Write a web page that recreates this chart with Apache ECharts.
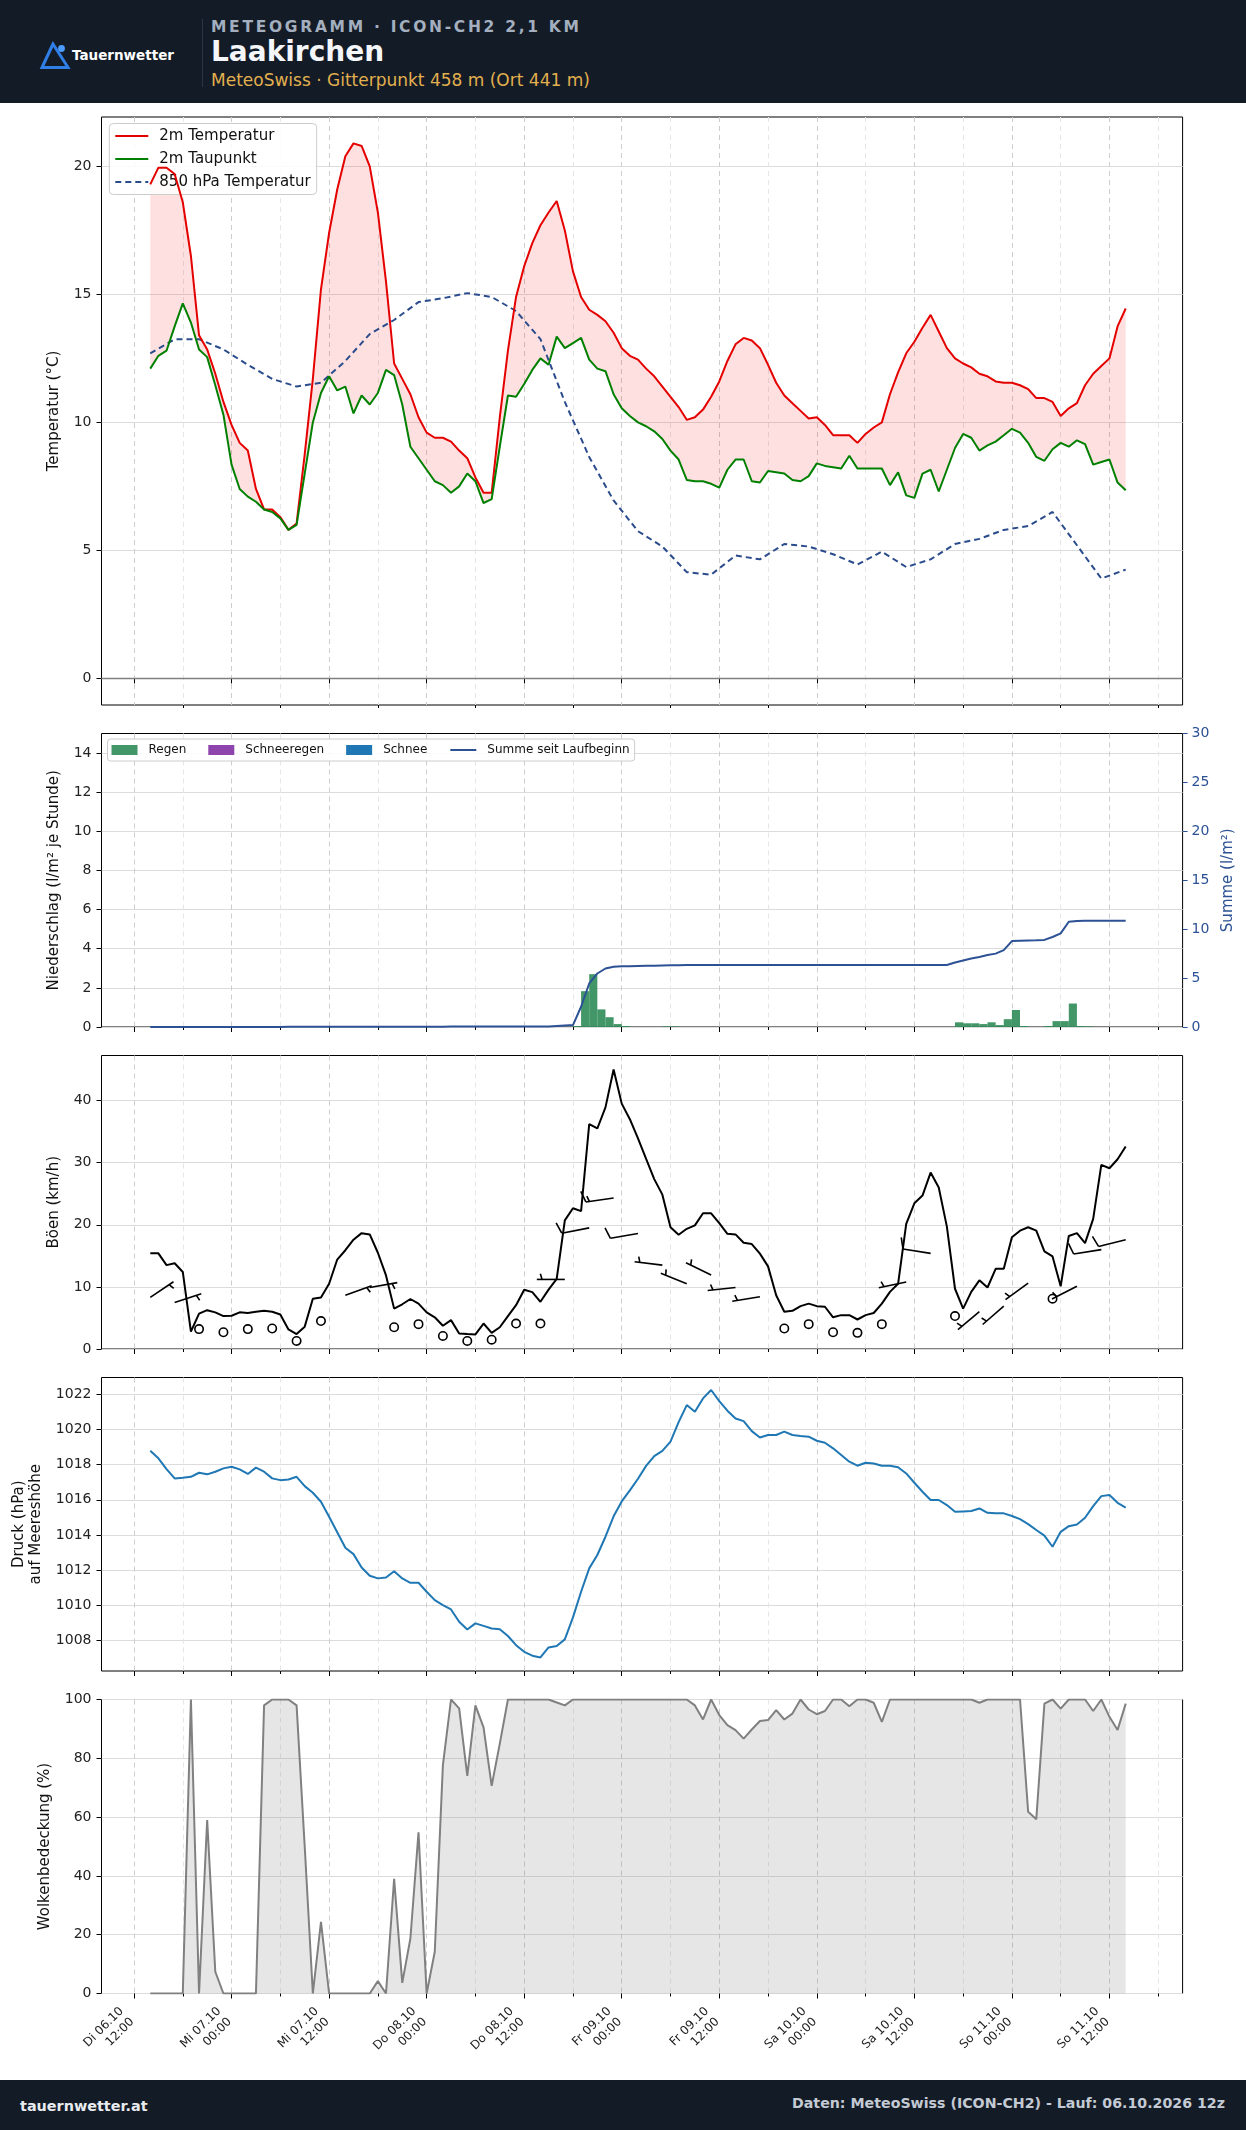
<!DOCTYPE html>
<html>
<head>
<meta charset="utf-8">
<script src="https://cdn.jsdelivr.net/npm/echarts@6/dist/echarts.min.js"></script>
<style>
html,body{margin:0;padding:0;background:#fff;}
body{width:1246px;height:2130px;position:relative;overflow:hidden;font-family:'DejaVu Sans',sans-serif;}
#chart{position:absolute;left:0;top:0;width:1246px;height:2130px;}
.bar{position:absolute;left:0;width:1246px;background:#131b26;}
.t{position:absolute;white-space:nowrap;line-height:1;}
</style>
</head>
<body>
<div id="chart"></div>
<div class="bar" style="top:0;height:103px;">
  <svg style="position:absolute;left:0;top:0" width="120" height="103">
    <polygon points="53,44 42,67.5 68,67.5" fill="none" stroke="#2f7fe6" stroke-width="3" stroke-linejoin="miter"/>
    <circle cx="61.5" cy="48.5" r="3.4" fill="#4c9bff"/>
  </svg>
  <div class="t" style="left:72px;top:48.5px;font-size:13.5px;font-weight:bold;color:#ffffff;">Tauernwetter</div>
  <div style="position:absolute;left:202px;top:19px;width:1px;height:68px;background:#2a3444;"></div>
  <div class="t" style="left:211px;top:20px;font-size:15.5px;font-weight:bold;color:#a3afbf;letter-spacing:2.7px;">METEOGRAMM · ICON-CH2 2,1 KM</div>
  <div class="t" style="left:211px;top:37.5px;font-size:28px;font-weight:bold;color:#f4f6f9;">Laakirchen</div>
  <div class="t" style="left:211px;top:71.5px;font-size:17px;color:#e2b04e;">MeteoSwiss · Gitterpunkt 458 m (Ort 441 m)</div>
</div>
<div class="bar" style="top:2080px;height:50px;">
  <div class="t" style="left:20px;top:18.5px;font-size:14.4px;font-weight:bold;color:#e8ebef;">tauernwetter.at</div>
  <div class="t" style="right:21px;top:16.3px;font-size:14.2px;font-weight:bold;color:#c3cad4;">Daten: MeteoSwiss (ICON-CH2) - Lauf: 06.10.2026 12z</div>
</div>
<script>
// ---------------- time axis (hours since Di 06.10 00:00) ----------------
const DAY_LABELS = ['Di 06.10', 'Mi 07.10', 'Do 08.10', 'Fr 09.10', 'Sa 10.10', 'So 11.10'];
const MAJOR_TICKS = [12, 24, 36, 48, 60, 72, 84, 96, 108, 120, 132];
const MINOR_TICKS = [18, 30, 42, 54, 66, 78, 90, 102, 114, 126, 138];
const X_MIN = 8, X_MAX = 141;
const HOURS = [];
for (let t = 14; t <= 134; t++) HOURS.push(t);
const HOURS_3H = [];
for (let t = 14; t <= 134; t += 3) HOURS_3H.push(t);

// ---------------- y tick labels ----------------
const TEMP_TICKS = [0, 5, 10, 15, 20];
const PRECIP_TICKS = [0, 2, 4, 6, 8, 10, 12, 14];
const SUM_TICKS = [0, 5, 10, 15, 20, 25, 30];
const GUST_TICKS = [0, 10, 20, 30, 40];
const PRESS_TICKS = [1008, 1010, 1012, 1014, 1016, 1018, 1020, 1022];
const CLOUD_TICKS = [0, 20, 40, 60, 80, 100];

// ---------------- series values (hourly, 14 .. 134) ----------------
const TEMP_2M = [
  19.3, 19.95, 19.95, 19.7, 18.6, 16.5, 13.4, 12.85, 11.9, 10.8,
  9.9, 9.2, 8.9, 7.4, 6.6, 6.6, 6.3, 5.8, 6.05, 8.75,
  11.7, 15.2, 17.4, 19.1, 20.4, 20.9, 20.8, 20.0, 18.2, 15.5,
  12.3, 11.7, 11.1, 10.2, 9.6, 9.4, 9.4, 9.25, 8.9, 8.6,
  7.85, 7.25, 7.25, 10.2, 12.8, 14.9, 16.1, 17.0, 17.7, 18.2,
  18.65, 17.5, 15.9, 14.9, 14.4, 14.2, 13.95, 13.5, 12.9, 12.6,
  12.45, 12.1, 11.8, 11.4, 11.0, 10.6, 10.1, 10.2, 10.5, 11.0,
  11.6, 12.4, 13.05, 13.3, 13.2, 12.9, 12.25, 11.55, 11.05, 10.75,
  10.45, 10.15, 10.2, 9.9, 9.5, 9.5, 9.5, 9.2, 9.55, 9.8,
  10.0, 11.1, 11.95, 12.7, 13.15, 13.7, 14.2, 13.55, 12.9, 12.5,
  12.3, 12.15, 11.9, 11.8, 11.6, 11.55, 11.55, 11.45, 11.3, 10.95,
  10.95, 10.8, 10.25, 10.55, 10.75, 11.45, 11.9, 12.2, 12.5, 13.75,
  14.45
];
const DEWPOINT_2M = [
  12.1, 12.6, 12.8, 13.75, 14.65, 13.9, 12.85, 12.55, 11.45, 10.3,
  8.35, 7.4, 7.1, 6.9, 6.6, 6.5, 6.25, 5.8, 6.0, 8.0,
  10.0, 11.15, 11.8, 11.25, 11.4, 10.35, 11.05, 10.7, 11.15, 12.05,
  11.85, 10.7, 9.05, 8.6, 8.15, 7.7, 7.55, 7.25, 7.5, 8.0,
  7.7, 6.85, 7.0, 9.05, 11.05, 11.0, 11.5, 12.05, 12.5, 12.25,
  13.35, 12.9, 13.1, 13.3, 12.45, 12.1, 12.0, 11.1, 10.55, 10.25,
  10.0, 9.85, 9.65, 9.35, 8.9, 8.55, 7.75, 7.7, 7.7, 7.6,
  7.45, 8.15, 8.55, 8.55, 7.7, 7.65, 8.1, 8.05, 8.0, 7.75,
  7.7, 7.9, 8.4, 8.3, 8.25, 8.2, 8.7, 8.2, 8.2, 8.2,
  8.2, 7.55, 8.05, 7.15, 7.05, 8.0, 8.15, 7.3, 8.15, 9.0,
  9.55, 9.4, 8.9, 9.1, 9.25, 9.5, 9.75, 9.6, 9.2, 8.65,
  8.5, 8.95, 9.2, 9.05, 9.3, 9.15, 8.35, 8.45, 8.55, 7.65,
  7.35
];
// 3-hourly, 14 .. 134
const TEMP_850 = [
  12.7, 13.25, 13.25, 12.85, 12.25, 11.7, 11.4, 11.55, 12.4, 13.45,
  14.0, 14.7, 14.85, 15.05, 14.9, 14.35, 13.25, 10.8, 8.65, 6.95,
  5.75, 5.15, 4.15, 4.05, 4.8, 4.65, 5.25, 5.15, 4.85, 4.45,
  4.95, 4.35, 4.65, 5.25, 5.45, 5.8, 5.95, 6.5, 5.2, 3.9,
  4.25
];
const PRECIP_RAIN = [
  0, 0, 0, 0, 0, 0, 0, 0, 0, 0,
  0, 0, 0, 0, 0, 0, 0, 0, 0, 0,
  0, 0, 0, 0, 0, 0, 0, 0, 0, 0,
  0, 0, 0, 0, 0, 0, 0, 0, 0, 0,
  0, 0, 0, 0, 0, 0, 0, 0, 0, 0,
  0, 0, 0.05, 1.83, 2.7, 0.9, 0.5, 0.15, 0.05, 0,
  0, 0, 0, 0.03, 0.03, 0, 0, 0, 0, 0,
  0, 0, 0, 0, 0, 0, 0, 0, 0, 0,
  0, 0, 0, 0, 0, 0, 0, 0, 0, 0,
  0, 0, 0, 0, 0, 0, 0, 0, 0, 0.24,
  0.19, 0.19, 0.15, 0.24, 0.1, 0.4, 0.87, 0.05, 0, 0,
  0.05, 0.3, 0.3, 1.2, 0.05, 0.03, 0, 0, 0, 0,
  0
];
const PRECIP_SUM = [
  0, 0, 0, 0, 0, 0, 0, 0, 0, 0,
  0, 0, 0, 0, 0, 0, 0, 0.02, 0.02, 0.02,
  0.02, 0.02, 0.02, 0.02, 0.02, 0.02, 0.02, 0.02, 0.02, 0.02,
  0.02, 0.02, 0.02, 0.02, 0.02, 0.02, 0.02, 0.05, 0.05, 0.05,
  0.05, 0.05, 0.05, 0.05, 0.05, 0.05, 0.05, 0.05, 0.05, 0.05,
  0.1, 0.15, 0.2, 2.07, 4.45, 5.47, 5.98, 6.15, 6.2, 6.22,
  6.24, 6.25, 6.26, 6.28, 6.3, 6.31, 6.33, 6.33, 6.33, 6.33,
  6.33, 6.33, 6.33, 6.33, 6.33, 6.33, 6.33, 6.33, 6.33, 6.33,
  6.33, 6.33, 6.33, 6.33, 6.33, 6.33, 6.33, 6.33, 6.33, 6.33,
  6.33, 6.33, 6.33, 6.33, 6.33, 6.33, 6.33, 6.33, 6.33, 6.6,
  6.8, 7.0, 7.15, 7.35, 7.5, 7.86, 8.78, 8.82, 8.84, 8.86,
  8.9, 9.2, 9.57, 10.76, 10.83, 10.85, 10.85, 10.85, 10.85, 10.85,
  10.85
];
const GUSTS = [
  15.4, 15.4, 13.5, 13.8, 12.4, 2.8, 5.7, 6.25, 5.9, 5.3,
  5.35, 5.9, 5.8, 6.0, 6.15, 6.0, 5.55, 3.15, 2.4, 3.6,
  8.1, 8.3, 10.5, 14.4, 15.9, 17.6, 18.65, 18.45, 15.5, 11.85,
  6.5, 7.2, 8.05, 7.3, 5.9, 5.1, 3.75, 4.65, 2.5, 2.4,
  2.35, 4.1, 2.6, 3.5, 5.3, 7.05, 9.55, 9.15, 7.6, 9.55,
  11.3, 20.7, 22.65, 22.2, 36.2, 35.5, 38.9, 45.0, 39.5, 37.0,
  33.9, 30.6, 27.35, 24.85, 19.6, 18.4, 19.35, 19.9, 21.85, 21.85,
  20.25, 18.55, 18.45, 17.1, 16.9, 15.35, 13.3, 8.65, 6.0, 6.15,
  6.9, 7.3, 6.9, 6.8, 5.1, 5.45, 5.45, 4.75, 5.45, 5.8,
  7.3, 9.2, 10.5, 20.15, 23.45, 24.7, 28.4, 26.0, 19.7, 9.7,
  6.5, 9.2, 11.05, 9.9, 12.9, 12.9, 18.0, 19.05, 19.6, 19.05,
  15.7, 14.9, 10.1, 18.2, 18.65, 17.05, 20.95, 29.65, 29.1, 30.55,
  32.6
];
const PRESSURE = [
  1018.79, 1018.36, 1017.75, 1017.22, 1017.26, 1017.31, 1017.54, 1017.45, 1017.6, 1017.79,
  1017.88, 1017.73, 1017.47, 1017.83, 1017.6, 1017.22, 1017.12, 1017.16, 1017.31, 1016.78,
  1016.4, 1015.89, 1015.04, 1014.15, 1013.27, 1012.91, 1012.15, 1011.68, 1011.53, 1011.58,
  1011.94, 1011.53, 1011.28, 1011.28, 1010.77, 1010.29, 1010.01, 1009.76, 1009.06, 1008.62,
  1008.97, 1008.83, 1008.68, 1008.64, 1008.25, 1007.73, 1007.35, 1007.13, 1007.03, 1007.6,
  1007.68, 1008.06, 1009.31, 1010.77, 1012.1, 1012.86, 1013.9, 1015.06, 1015.91, 1016.54,
  1017.2, 1017.93, 1018.49, 1018.78, 1019.31, 1020.42, 1021.39, 1021.01, 1021.77, 1022.25,
  1021.62, 1021.07, 1020.63, 1020.48, 1019.91, 1019.55, 1019.69, 1019.69, 1019.88, 1019.69,
  1019.63, 1019.59, 1019.36, 1019.25, 1018.93, 1018.55, 1018.17, 1017.94, 1018.11, 1018.07,
  1017.94, 1017.94, 1017.85, 1017.5, 1016.97, 1016.46, 1015.99, 1015.99, 1015.7, 1015.32,
  1015.34, 1015.36, 1015.51, 1015.26, 1015.23, 1015.23, 1015.08, 1014.9, 1014.62, 1014.28,
  1013.96, 1013.33, 1014.18, 1014.5, 1014.6, 1014.98, 1015.64, 1016.21, 1016.27, 1015.83,
  1015.55
];
const CLOUD = [
  0, 0, 0, 0, 0, 100, 0, 59, 7.4, 0,
  0, 0, 0, 0, 98, 100, 100, 100, 98, 50,
  0, 24.4, 0, 0, 0, 0, 0, 0, 4.2, 0,
  39, 3.6, 18.7, 54.8, 0, 14.2, 77.7, 100, 97, 74,
  98, 90.5, 70.6, 85, 100, 100, 100, 100, 100, 100,
  99, 98, 100, 100, 100, 100, 100, 100, 100, 100,
  100, 100, 100, 100, 100, 100, 100, 98, 93.2, 100,
  94.7, 91.3, 89.6, 86.7, 89.8, 92.7, 93, 96.4, 93.2, 95.2,
  100, 96.6, 95, 96.1, 100, 100, 97.7, 100, 100, 98.9,
  92.4, 100, 100, 100, 100, 100, 100, 100, 100, 100,
  100, 100, 98.9, 100, 100, 100, 100, 100, 61.8, 59.3,
  98.6, 100, 96.9, 100, 100, 100, 96.1, 100, 94.1, 89.6,
  98.6
];
// wind barbs, 3-hourly 14 .. 134 : speed (km/h, plotted height) and direction (deg, null = calm)
const WIND_SPEED = [
  8.3, 7.5, 3.2, 2.7, 3.2, 3.3, 1.3, 4.5, 8.65, 9.9,
  3.5, 4.0, 2.1, 1.3, 1.5, 4.1, 4.1, 11.2, 19.5, 24.3,
  18.6, 13.5, 10.5, 11.9, 9.9, 8.4, 3.3, 4.0, 2.7, 2.6,
  4.0, 10.8, 15.4, 5.3, 6.0, 6.9, 10.6, 8.1, 10.1, 16.0,
  17.6
];
const WIND_DIR = [
  56, 72, null, null, null, null, null, null, 70, 80,
  null, null, null, null, null, null, null, 270, 259, 262,
  260, 277, 292, 296, 264, 261, null, null, null, null,
  null, 258, 279, null, 230, 229, 234, null, 243, 261,
  256
];

// ---------------- layout ----------------
const GRID_LEFT = 101.5, GRID_WIDTH = 1081.1;
const PANELS = [
  { top: 117, height: 588 },
  { top: 733.5, height: 293.5 },
  { top: 1055.5, height: 293.5 },
  { top: 1377.5, height: 293.5 },
  { top: 1699.5, height: 294 }
];
const FONT = "'DejaVu Sans', sans-serif";
const BLUE_SUM = '#2c5295';

function xLabel(v) {
  const d = Math.floor(v / 24);
  const h = v - d * 24;
  return DAY_LABELS[d] + '\n' + (h < 10 ? '0' : '') + h + ':00';
}

const xAxes = [];
PANELS.forEach((p, i) => {
  xAxes.push({
    type: 'value', gridIndex: i, min: X_MIN, max: X_MAX, position: 'bottom',
    axisLine: { show: false },
    axisTick: { show: true, customValues: MAJOR_TICKS, length: 5, lineStyle: { color: '#000', width: 1 } },
    axisLabel: i === 4 ? {
      show: true, customValues: MAJOR_TICKS, rotate: 45, fontSize: 12, color: '#222',
      fontFamily: FONT, margin: 14, padding: [0, 10, 0, 0], lineHeight: 15, formatter: xLabel
    } : { show: false },
    splitLine: { show: true, lineStyle: { color: '#cdcdcd', width: 1, type: [5, 4] } }
  });
  xAxes.push({
    type: 'value', gridIndex: i, min: X_MIN, max: X_MAX, position: 'bottom',
    axisLine: { show: false },
    axisTick: { show: true, customValues: MINOR_TICKS, length: 3, lineStyle: { color: '#000', width: 1 } },
    axisLabel: { show: false },
    splitLine: { show: true, lineStyle: { color: '#e6e6e6', width: 1, type: [5, 4] } }
  });
});

function yAxis(grid, min, max, ticks, name, gap, extra) {
  return Object.assign({
    type: 'value', gridIndex: grid, min: min, max: max,
    axisLine: { show: false },
    axisTick: { show: true, customValues: ticks, length: 5, lineStyle: { color: '#000', width: 1 } },
    axisLabel: { customValues: ticks, fontSize: 14, color: '#222', fontFamily: FONT, margin: 10,
      formatter: (v) => String(v) },
    splitLine: { show: true, lineStyle: { color: '#dcdcdc', width: 1 } },
    name: name, nameLocation: 'middle', nameGap: gap, nameRotate: 90,
    nameTextStyle: { fontSize: 15, color: '#111', fontFamily: FONT, lineHeight: 17 }
  }, extra || {});
}

const yAxes = [
  yAxis(0, -1.04, 21.93, TEMP_TICKS, 'Temperatur (°C)', 35),
  yAxis(1, 0, 15, PRECIP_TICKS, 'Niederschlag (l/m² je Stunde)', 35),
  yAxis(1, 0, 30, SUM_TICKS, 'Summe (l/m²)', 33, {
    position: 'right',
    axisTick: { show: true, customValues: SUM_TICKS, length: 5, lineStyle: { color: BLUE_SUM, width: 1 } },
    axisLabel: { customValues: SUM_TICKS, fontSize: 14, color: BLUE_SUM, fontFamily: FONT, margin: 9,
      formatter: (v) => String(v) },
    splitLine: { show: false },
    nameTextStyle: { fontSize: 15, color: BLUE_SUM, fontFamily: FONT }
  }),
  yAxis(2, 0, 47.25, GUST_TICKS, 'Böen (km/h)', 35),
  yAxis(3, 1006.26, 1022.96, PRESS_TICKS, 'Druck (hPa)\nauf Meereshöhe', 43),
  yAxis(4, 0, 100, CLOUD_TICKS, 'Wolkenbedeckung (%)', 44)
];

const pair = (arr) => HOURS.map((t, i) => [t, arr[i]]);

// band between temperature and dew point, drawn as one polygon through the axis scales
function renderBand(params, api) {
  if (params.dataIndex !== 0) return;
  const pts = [];
  for (let i = 0; i < HOURS.length; i++) pts.push(api.coord([HOURS[i], TEMP_2M[i]]));
  for (let i = HOURS.length - 1; i >= 0; i--) pts.push(api.coord([HOURS[i], DEWPOINT_2M[i]]));
  return { type: 'polygon', shape: { points: pts }, style: { fill: 'rgba(255,0,0,0.12)', stroke: null } };
}

function renderRain(params, api) {
  const t = api.value(0), v = api.value(1);
  const p0 = api.coord([t, 0]);
  const p1 = api.coord([t + 1, v]);
  return {
    type: 'rect',
    shape: { x: p0[0], y: p1[1], width: p1[0] - p0[0], height: p0[1] - p1[1] },
    style: api.style()
  };
}

function renderBarb(params, api) {
  const t = api.value(0), spd = api.value(1), dir = api.value(2);
  const p = api.coord([t, spd]);
  const L = 28;
  const st = { stroke: '#000', lineWidth: 1.6, fill: null };
  if (!(dir >= 0)) {
    return { type: 'circle', shape: { cx: p[0], cy: p[1], r: 0.15 * L }, style: st };
  }
  const rad = dir * Math.PI / 180;
  const u = [Math.sin(rad), -Math.cos(rad)];
  const r = [-u[1], u[0]];
  const tip = [p[0] + u[0] * L, p[1] + u[1] * L];
  let mag = 5 * Math.floor(spd / 1.852 / 5 + 0.5);
  const flags = Math.floor(mag / 50); mag -= flags * 50;
  const fulls = Math.floor(mag / 10); mag -= fulls * 10;
  const half = mag >= 5;
  const sp = 0.125 * L, fh = 0.4 * L, fw = 0.25 * L;
  const children = [{ type: 'line', shape: { x1: p[0], y1: p[1], x2: tip[0], y2: tip[1] }, style: st }];
  let off = 0;
  for (let k = 0; k < flags; k++) {
    const a = [tip[0] - u[0] * off, tip[1] - u[1] * off];
    const b = [a[0] - u[0] * fw, a[1] - u[1] * fw];
    children.push({ type: 'polygon', shape: { points: [a, [a[0] + r[0] * fh - u[0] * fw / 2, a[1] + r[1] * fh - u[1] * fw / 2], b] }, style: { fill: '#000', stroke: '#000' } });
    off += fw + sp / 2;
  }
  for (let k = 0; k < fulls; k++) {
    const a = [tip[0] - u[0] * off, tip[1] - u[1] * off];
    children.push({ type: 'line', shape: { x1: a[0], y1: a[1], x2: a[0] + r[0] * fh + u[0] * fw / 2, y2: a[1] + r[1] * fh + u[1] * fw / 2 }, style: st });
    off += sp;
  }
  if (half) {
    if (off === 0) off = 1.5 * sp;
    const a = [tip[0] - u[0] * off, tip[1] - u[1] * off];
    children.push({ type: 'line', shape: { x1: a[0], y1: a[1], x2: a[0] + r[0] * fh / 2 + u[0] * fw / 4, y2: a[1] + r[1] * fh / 2 + u[1] * fw / 4 }, style: st });
  }
  return { type: 'group', children: children };
}

const series = [
  // panel 1
  { name: '_band', type: 'custom', xAxisIndex: 0, yAxisIndex: 0, renderItem: renderBand, silent: true,
    encode: { x: 0, y: 1 }, data: [[HOURS[0], TEMP_2M[0]]], z: 1 },
  { name: '2m Temperatur', type: 'line', xAxisIndex: 0, yAxisIndex: 0, symbol: 'none',
    lineStyle: { color: '#e50000', width: 2 }, itemStyle: { color: '#e50000' }, data: pair(TEMP_2M), z: 4,
    markLine: { silent: true, symbol: 'none', label: { show: false }, animation: false,
      lineStyle: { color: '#808080', width: 1.3, type: 'solid' }, data: [{ yAxis: 0 }] } },
  { name: '2m Taupunkt', type: 'line', xAxisIndex: 0, yAxisIndex: 0, symbol: 'none',
    lineStyle: { color: '#008000', width: 2 }, itemStyle: { color: '#008000' }, data: pair(DEWPOINT_2M), z: 4 },
  { name: '850 hPa Temperatur', type: 'line', xAxisIndex: 0, yAxisIndex: 0, symbol: 'none',
    lineStyle: { color: '#2b4c8c', width: 2, type: [6, 4] }, itemStyle: { color: '#2b4c8c' },
    data: HOURS_3H.map((t, i) => [t, TEMP_850[i]]), z: 3 },
  // panel 2
  { name: 'Regen', type: 'custom', xAxisIndex: 2, yAxisIndex: 1, renderItem: renderRain,
    itemStyle: { color: '#2e8b57', opacity: 0.9 }, encode: { x: 0, y: 1 },
    data: pair(PRECIP_RAIN).filter(d => d[1] > 0), z: 2 },
  { name: 'Schneeregen', type: 'custom', xAxisIndex: 2, yAxisIndex: 1, renderItem: renderRain,
    itemStyle: { color: '#8e44ad' }, data: [] },
  { name: 'Schnee', type: 'custom', xAxisIndex: 2, yAxisIndex: 1, renderItem: renderRain,
    itemStyle: { color: '#1f77b4' }, data: [] },
  { name: 'Summe seit Laufbeginn', type: 'line', xAxisIndex: 2, yAxisIndex: 2, symbol: 'none',
    lineStyle: { color: BLUE_SUM, width: 2 }, itemStyle: { color: BLUE_SUM }, data: pair(PRECIP_SUM), z: 3 },
  // panel 3
  { name: 'Böen', type: 'line', xAxisIndex: 4, yAxisIndex: 3, symbol: 'none',
    lineStyle: { color: '#000', width: 2 }, data: pair(GUSTS), z: 3 },
  { name: 'Wind', type: 'custom', xAxisIndex: 4, yAxisIndex: 3, renderItem: renderBarb, clip: false,
    encode: { x: 0, y: 1 },
    data: HOURS_3H.map((t, i) => [t, WIND_SPEED[i], WIND_DIR[i] === null ? -1 : WIND_DIR[i]]), z: 4 },
  // panel 4
  { name: 'Druck', type: 'line', xAxisIndex: 6, yAxisIndex: 4, symbol: 'none',
    lineStyle: { color: '#1f77b4', width: 2 }, data: pair(PRESSURE), z: 3 },
  // panel 5
  { name: 'Wolken', type: 'line', xAxisIndex: 8, yAxisIndex: 5, symbol: 'none',
    lineStyle: { color: '#808080', width: 2 }, areaStyle: { color: 'rgba(128,128,128,0.2)', opacity: 1 },
    data: pair(CLOUD), z: 3 }
];

const option = {
  animation: false,
  backgroundColor: '#ffffff',
  textStyle: { fontFamily: FONT },
  grid: PANELS.map(p => ({
    left: GRID_LEFT, width: GRID_WIDTH, top: p.top, height: p.height,
    show: true, borderColor: '#000', borderWidth: 1, backgroundColor: '#fff'
  })),
  xAxis: xAxes,
  yAxis: yAxes,
  legend: [
    {
      data: [
        { name: '2m Temperatur', itemStyle: { opacity: 0 } },
        { name: '2m Taupunkt', itemStyle: { opacity: 0 } },
        { name: '850 hPa Temperatur', itemStyle: { opacity: 0 } }
      ],
      orient: 'vertical', left: 109.3, top: 123.5, selectedMode: false,
      backgroundColor: 'rgba(255,255,255,0.85)', borderColor: '#cccccc', borderWidth: 1, borderRadius: 4,
      padding: [5, 6, 5, 5], itemGap: 8, itemWidth: 33, itemHeight: 14,
      textStyle: { fontSize: 15, color: '#111', fontFamily: FONT, padding: [0, 0, 0, 6] }
    },
    {
      data: [
        { name: 'Regen', icon: 'rect' }, { name: 'Schneeregen', icon: 'rect' },
        { name: 'Schnee', icon: 'rect' },
        { name: 'Summe seit Laufbeginn', itemStyle: { opacity: 0 } }
      ],
      orient: 'horizontal', left: 107.5, top: 739, selectedMode: false,
      backgroundColor: 'rgba(255,255,255,0.85)', borderColor: '#cccccc', borderWidth: 1, borderRadius: 3,
      padding: [5, 5, 5, 4], itemGap: 22, itemWidth: 26, itemHeight: 10,
      textStyle: { fontSize: 12, color: '#111', fontFamily: FONT, padding: [0, 0, 0, 6] }
    }
  ],
  series: series
};

const chart = echarts.init(document.getElementById('chart'), null, { renderer: 'canvas' });
chart.setOption(option);
</script>
</body>
</html>
